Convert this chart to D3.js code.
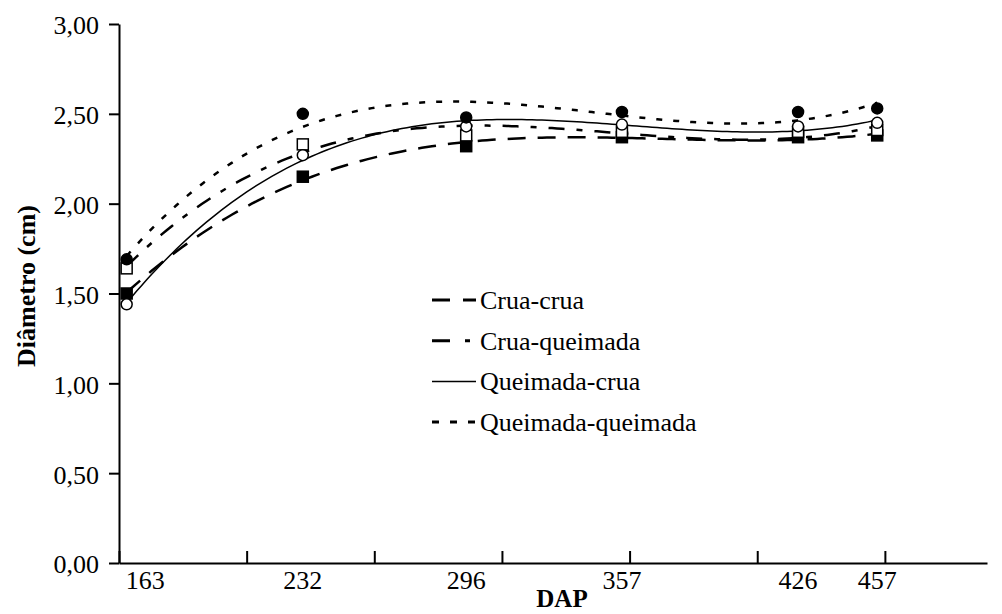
<!DOCTYPE html>
<html>
<head>
<meta charset="utf-8">
<script src="https://cdn.jsdelivr.net/npm/d3@7"></script>
<style>
  body { margin: 0; background: #fff; }
  text { font-family: "Liberation Serif", "Times New Roman", serif; fill: #000; }
</style>
</head>
<body>
<svg id="chart" width="1002" height="614"></svg>
<script>
// days after planting (DAP)
const days = [163, 232, 296, 357, 426, 457];

// mean stalk diameter (cm) per treatment
const cruaCrua = [1.50, 2.15, 2.32, 2.37, 2.37, 2.38];
const cruaQueimada = [1.64, 2.33, 2.38, 2.40, 2.40, 2.41];
const queimadaCrua = [1.44, 2.27, 2.43, 2.44, 2.43, 2.45];
const queimadaQueimada = [1.69, 2.50, 2.48, 2.51, 2.51, 2.53];

const seriesNames = ['Crua-crua', 'Crua-queimada', 'Queimada-crua', 'Queimada-queimada'];
const yTicks = [0, 0.5, 1, 1.5, 2, 2.5, 3];
const xTicks = [160, 210, 260, 310, 360, 410, 460];

const series = [
  { name: seriesNames[0], values: cruaCrua, dash: '18,12', width: 2.5, legendDash: '18,13', marker: 'square', filled: true },
  { name: seriesNames[1], values: cruaQueimada, dash: '16,12,6,12', width: 2.5, legendDash: '18,15,5,15', marker: 'square', filled: false },
  { name: seriesNames[2], values: queimadaCrua, dash: null, width: 1.5, legendDash: null, marker: 'circle', filled: false },
  { name: seriesNames[3], values: queimadaQueimada, dash: '6,11', width: 2.5, legendDash: '7,11', marker: 'circle', filled: true }
];

const svg = d3.select('#chart');

const x = d3.scaleLinear().domain([160, 500]).range([119, 987]);
const y = d3.scaleLinear().domain([0, 3]).range([563, 24]);

const fmt = v => d3.format('.2f')(v).replace('.', ',');

// polynomial trend line (least squares), like the spreadsheet one
function polyFit(xs, ys, order) {
  const x0 = xs[0], span = xs[xs.length - 1] - xs[0];
  const t = xs.map(v => (v - x0) / span);
  const n = order + 1;
  const A = [];
  for (let i = 0; i < n; i++) {
    A.push(new Array(n + 1).fill(0));
    for (let j = 0; j < n; j++) {
      A[i][j] = d3.sum(t, tv => Math.pow(tv, i + j));
    }
    A[i][n] = d3.sum(t, (tv, k) => ys[k] * Math.pow(tv, i));
  }
  for (let c = 0; c < n; c++) {
    let p = c;
    for (let r = c + 1; r < n; r++) if (Math.abs(A[r][c]) > Math.abs(A[p][c])) p = r;
    [A[c], A[p]] = [A[p], A[c]];
    for (let r = 0; r < n; r++) {
      if (r === c) continue;
      const f = A[r][c] / A[c][c];
      for (let k = c; k <= n; k++) A[r][k] -= f * A[c][k];
    }
  }
  const coef = A.map((row, i) => row[n] / row[i]);
  return v => {
    const tv = (v - x0) / span;
    return coef.reduce((s, c, i) => s + c * Math.pow(tv, i), 0);
  };
}

// axes
const yAxis = d3.axisLeft(y)
  .tickValues(yTicks)
  .tickSizeInner(10)
  .tickSizeOuter(0)
  .tickPadding(10)
  .tickFormat(fmt);

svg.append('g')
  .attr('transform', 'translate(119,0)')
  .call(yAxis)
  .call(g => g.selectAll('text').attr('font-size', 26).attr('dy', '0.38em'))
  .call(g => g.selectAll('line, path').attr('stroke', '#000').attr('stroke-width', 2));

const xAxis = d3.axisBottom(x)
  .tickValues(xTicks)
  .tickSizeInner(-12)
  .tickSizeOuter(0)
  .tickFormat('');

svg.append('g')
  .attr('transform', 'translate(0,563)')
  .call(xAxis)
  .call(g => g.selectAll('line, path').attr('stroke', '#000').attr('stroke-width', 2));

// DAP labels sit under the sampling days
svg.append('g')
  .selectAll('text')
  .data(days)
  .join('text')
  .attr('x', (d, i) => i === 0 ? x(d) - 1 : x(d))
  .attr('y', 589)
  .attr('text-anchor', (d, i) => i === 0 ? 'start' : 'middle')
  .attr('font-size', 26)
  .text(d => d);

svg.append('text')
  .attr('x', 562)
  .attr('y', 607)
  .attr('text-anchor', 'middle')
  .attr('font-size', 25)
  .attr('font-weight', 'bold')
  .text('DAP');

svg.append('text')
  .attr('transform', 'translate(35,286) rotate(-90)')
  .attr('text-anchor', 'middle')
  .attr('font-size', 26)
  .attr('font-weight', 'bold')
  .text('Diâmetro (cm)');

// trend lines (3rd order polynomial)
const samples = d3.range(0, 151).map(i => days[0] + (days[days.length - 1] - days[0]) * i / 150);
const line = d3.line().x(d => x(d[0])).y(d => y(d[1]));

series.forEach(s => {
  const f = polyFit(days, s.values, 3);
  svg.append('path')
    .datum(samples.map(v => [v, f(v)]))
    .attr('d', line)
    .attr('fill', 'none')
    .attr('stroke', '#000')
    .attr('stroke-width', s.width)
    .attr('stroke-dasharray', s.dash);
});

// markers
series.forEach(s => {
  const g = svg.append('g');
  const pts = days.map((d, i) => [d, s.values[i]]);
  if (s.marker === 'circle') {
    g.selectAll('circle')
      .data(pts)
      .join('circle')
      .attr('cx', d => x(d[0]))
      .attr('cy', d => y(d[1]))
      .attr('r', 5.5)
      .attr('fill', s.filled ? '#000' : '#fff')
      .attr('stroke', '#000')
      .attr('stroke-width', 1.5);
  } else {
    g.selectAll('rect')
      .data(pts)
      .join('rect')
      .attr('x', d => x(d[0]) - 5.5)
      .attr('y', d => y(d[1]) - 5.5)
      .attr('width', 11)
      .attr('height', 11)
      .attr('fill', s.filled ? '#000' : '#fff')
      .attr('stroke', '#000')
      .attr('stroke-width', 1.5);
  }
});

// legend
const legend = svg.append('g')
  .selectAll('g')
  .data(series)
  .join('g')
  .attr('transform', (d, i) => `translate(432,${300 + i * 40.7})`);

legend.append('line')
  .attr('x1', 0)
  .attr('x2', 44)
  .attr('stroke', '#000')
  .attr('stroke-width', d => d.dash ? 3 : 1.5)
  .attr('stroke-dasharray', d => d.legendDash);

legend.append('text')
  .attr('x', 48)
  .attr('y', 9)
  .attr('font-size', 26)
  .text(d => d.name);
</script>
</body>
</html>
